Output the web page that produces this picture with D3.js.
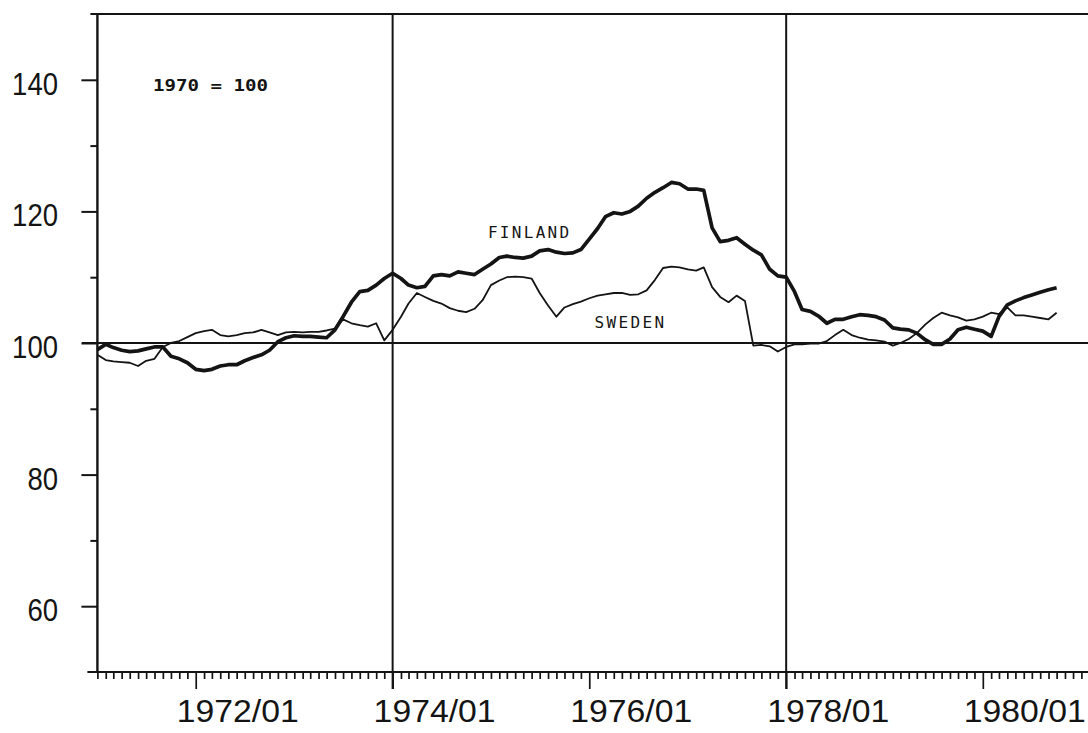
<!DOCTYPE html>
<html>
<head>
<meta charset="utf-8">
<script src="https://cdn.jsdelivr.net/npm/d3@7"></script>
<style>
  html, body { margin: 0; padding: 0; background: #fff; }
  svg { display: block; }
</style>
</head>
<body>
<svg id="chart" width="1088" height="733"></svg>
<script>
// Monthly index values, 1970 = 100, starting January 1971
const startMonth = "1971-01";

const finland = [
  99.0, 99.8, 99.3, 98.9, 98.7, 98.8, 99.1, 99.4, 99.4, 98.0, 97.6, 97.0,
  96.0, 95.8, 96.0, 96.5, 96.7, 96.7, 97.3, 97.8, 98.2, 98.9, 100.2, 100.8,
  101.1, 101.0, 101.0, 100.9, 100.8, 102.0, 104.0, 106.2, 107.8, 108.0, 108.8, 109.8,
  110.6, 109.8, 108.8, 108.4, 108.6, 110.2, 110.4, 110.2, 110.8, 110.6, 110.4, 111.2,
  112.0, 113.0, 113.2, 113.0, 112.9, 113.2, 114.0, 114.2, 113.8, 113.6, 113.7, 114.2,
  115.8, 117.4, 119.2, 119.8, 119.6, 120.0, 120.8, 122.0, 122.9, 123.6, 124.4, 124.2,
  123.4, 123.4, 123.2, 117.5, 115.4, 115.6, 116.0, 115.0, 114.1, 113.4, 111.2, 110.2,
  110.0, 107.8, 105.1, 104.8, 104.1, 103.0, 103.6, 103.6, 104.0, 104.3, 104.2, 104.0,
  103.5, 102.3, 102.1, 102.0, 101.5, 100.5, 99.8, 99.8, 100.6, 102.0, 102.4, 102.1,
  101.8, 101.0, 104.0, 105.8, 106.4, 106.9, 107.3, 107.7, 108.1, 108.4
];

const sweden = [
  98.2, 97.4, 97.2, 97.1, 97.0, 96.5, 97.3, 97.6, 99.4, 100.0, 100.3, 100.9,
  101.5, 101.8, 102.0, 101.2, 101.0, 101.2, 101.5, 101.6, 102.0, 101.6, 101.2, 101.6,
  101.7, 101.6, 101.7, 101.7, 101.9, 102.2, 103.6, 103.0, 102.7, 102.5, 103.0, 100.4,
  102.0, 104.0, 106.0, 107.6, 107.0, 106.4, 106.0, 105.3, 104.9, 104.7, 105.2, 106.5,
  108.8, 109.5, 110.0, 110.1, 110.0, 109.8, 107.6, 105.7, 104.0, 105.4, 105.9, 106.3,
  106.8, 107.2, 107.4, 107.6, 107.6, 107.3, 107.4, 108.0, 109.6, 111.4, 111.6, 111.5,
  111.2, 111.0, 111.5, 108.5, 107.0, 106.2, 107.2, 106.4, 99.6, 99.7, 99.5, 98.7,
  99.4, 99.8, 99.8, 99.9, 99.9, 100.3, 101.2, 102.0, 101.2, 100.8, 100.5, 100.4,
  100.2, 99.6, 100.0, 100.6, 101.5, 102.8, 103.8, 104.6, 104.2, 103.9, 103.4, 103.6,
  104.0, 104.6, 104.4, 105.4, 104.2, 104.2, 104.0, 103.8, 103.6, 104.6
];

const yTicks = [60, 80, 100, 120, 140];
const yMinorTicks = [70, 90, 110, 130];
const xTickLabels = ["1972/01", "1974/01", "1976/01", "1978/01", "1980/01"];
const frameMonths = ["1974/01", "1978/01"];   // full-height verticals
const baseLabel = "1970 = 100";
const seriesLabels = [
  { name: "FINLAND", at: "1975/01", value: 116.0 },
  { name: "SWEDEN", at: "1976/02", value: 102.3 }
];

const svg = d3.select("#chart");
const parseYM = d3.timeParse("%Y/%m");
const parseStart = d3.timeParse("%Y-%m");

const months = d3.timeMonth.range(parseStart(startMonth),
  d3.timeMonth.offset(parseStart(startMonth), finland.length));

const x = d3.scaleTime()
  .domain([parseYM("1971/01"), parseYM("1981/01")])
  .range([97.4, 1081.4]);
const y = d3.scaleLinear().domain([50, 150]).range([672, 14]);

const xLeft = x.range()[0];
const xRight = 1100;
const ink = "#141414";

// monthly ticks along the bottom axis
const allTickMonths = d3.timeMonth.range(parseYM("1971/01"), parseYM("1981/04"));
const xAxis = d3.axisBottom(x)
  .tickValues(allTickMonths)
  .tickSize(7)
  .tickFormat("");
const gx = svg.append("g")
  .attr("transform", `translate(0,${y(50)})`)
  .call(xAxis);
gx.select(".domain").remove();
gx.selectAll(".tick line")
  .attr("stroke", ink)
  .attr("stroke-width", 1.7)
  .attr("y2", d => (d.getMonth() === 0 && d.getFullYear() % 2 === 0) ? 17 : 7);

// year labels, drawn starting slightly left of their tick
svg.append("g").selectAll("text")
  .data(xTickLabels)
  .join("text")
  .attr("x", d => x(parseYM(d)) - 19)
  .attr("y", 722)
  .attr("font-family", "Liberation Sans, Arial, sans-serif")
  .attr("font-size", 32)
  .attr("fill", ink)
  .attr("textLength", 122)
  .attr("lengthAdjust", "spacingAndGlyphs")
  .text(d => d);

// left axis with major and minor ticks
const yAxis = d3.axisLeft(y).tickValues(yTicks).tickSize(16).tickFormat("");
const gy = svg.append("g").attr("transform", `translate(${xLeft},0)`).call(yAxis);
gy.select(".domain").remove();
gy.selectAll(".tick line").attr("stroke", ink).attr("stroke-width", 2);

const yAxisMinor = d3.axisLeft(y).tickValues(yMinorTicks).tickSize(7).tickFormat("");
const gy2 = svg.append("g").attr("transform", `translate(${xLeft},0)`).call(yAxisMinor);
gy2.select(".domain").remove();
gy2.selectAll(".tick line").attr("stroke", ink).attr("stroke-width", 2);

svg.append("g").selectAll("text")
  .data(yTicks)
  .join("text")
  .attr("x", 58)
  .attr("y", d => y(d) + 15)
  .attr("text-anchor", "end")
  .attr("font-family", "Liberation Sans, Arial, sans-serif")
  .attr("font-size", 32)
  .attr("fill", ink)
  .attr("textLength", d => String(d).length * 15.3)
  .attr("lengthAdjust", "spacingAndGlyphs")
  .text(d => d);

// frame: left, top, bottom
const frame = svg.append("g").attr("stroke", ink).attr("fill", "none");
frame.append("line")
  .attr("x1", xLeft).attr("x2", xLeft)
  .attr("y1", y(150)).attr("y2", y(50))
  .attr("stroke-width", 2.4);
frame.append("line")
  .attr("x1", xLeft - 7).attr("x2", xRight)
  .attr("y1", y(150)).attr("y2", y(150))
  .attr("stroke-width", 2.2);
frame.append("line")
  .attr("x1", xLeft - 10).attr("x2", xRight)
  .attr("y1", y(50)).attr("y2", y(50))
  .attr("stroke-width", 2.2);

// reference line at 100
frame.append("line")
  .attr("x1", 82).attr("x2", xRight)
  .attr("y1", y(100)).attr("y2", y(100))
  .attr("stroke-width", 1.8);

// vertical dividers
frame.selectAll("line.divider")
  .data(frameMonths)
  .join("line")
  .attr("class", "divider")
  .attr("x1", d => x(parseYM(d))).attr("x2", d => x(parseYM(d)))
  .attr("y1", y(150)).attr("y2", y(50) + 17)
  .attr("stroke-width", 2);

// series
const line = d3.line()
  .x((d, i) => x(months[i]))
  .y(d => y(d));

svg.append("path")
  .datum(sweden)
  .attr("d", line)
  .attr("fill", "none")
  .attr("stroke", ink)
  .attr("stroke-width", 1.8)
  .attr("stroke-linejoin", "round");

svg.append("path")
  .datum(finland)
  .attr("d", line)
  .attr("fill", "none")
  .attr("stroke", ink)
  .attr("stroke-width", 3.7)
  .attr("stroke-linejoin", "round");

// annotations
const mono = "DejaVu Sans Mono, Liberation Mono, monospace";
svg.append("text")
  .attr("x", 153).attr("y", 90.5)
  .attr("font-family", mono)
  .attr("font-size", 16)
  .attr("font-weight", "bold")
  .attr("fill", ink)
  .attr("textLength", 115)
  .attr("lengthAdjust", "spacingAndGlyphs")
  .text(baseLabel);

svg.append("g").selectAll("text")
  .data(seriesLabels)
  .join("text")
  .attr("x", d => x(parseYM(d.at)) - 3)
  .attr("y", d => y(d.value))
  .attr("font-family", mono)
  .attr("font-size", 16)
  .attr("fill", ink)
  .attr("textLength", d => d.name.length * 11.6)
  .attr("lengthAdjust", "spacing")
  .text(d => d.name);
</script>
</body>
</html>
